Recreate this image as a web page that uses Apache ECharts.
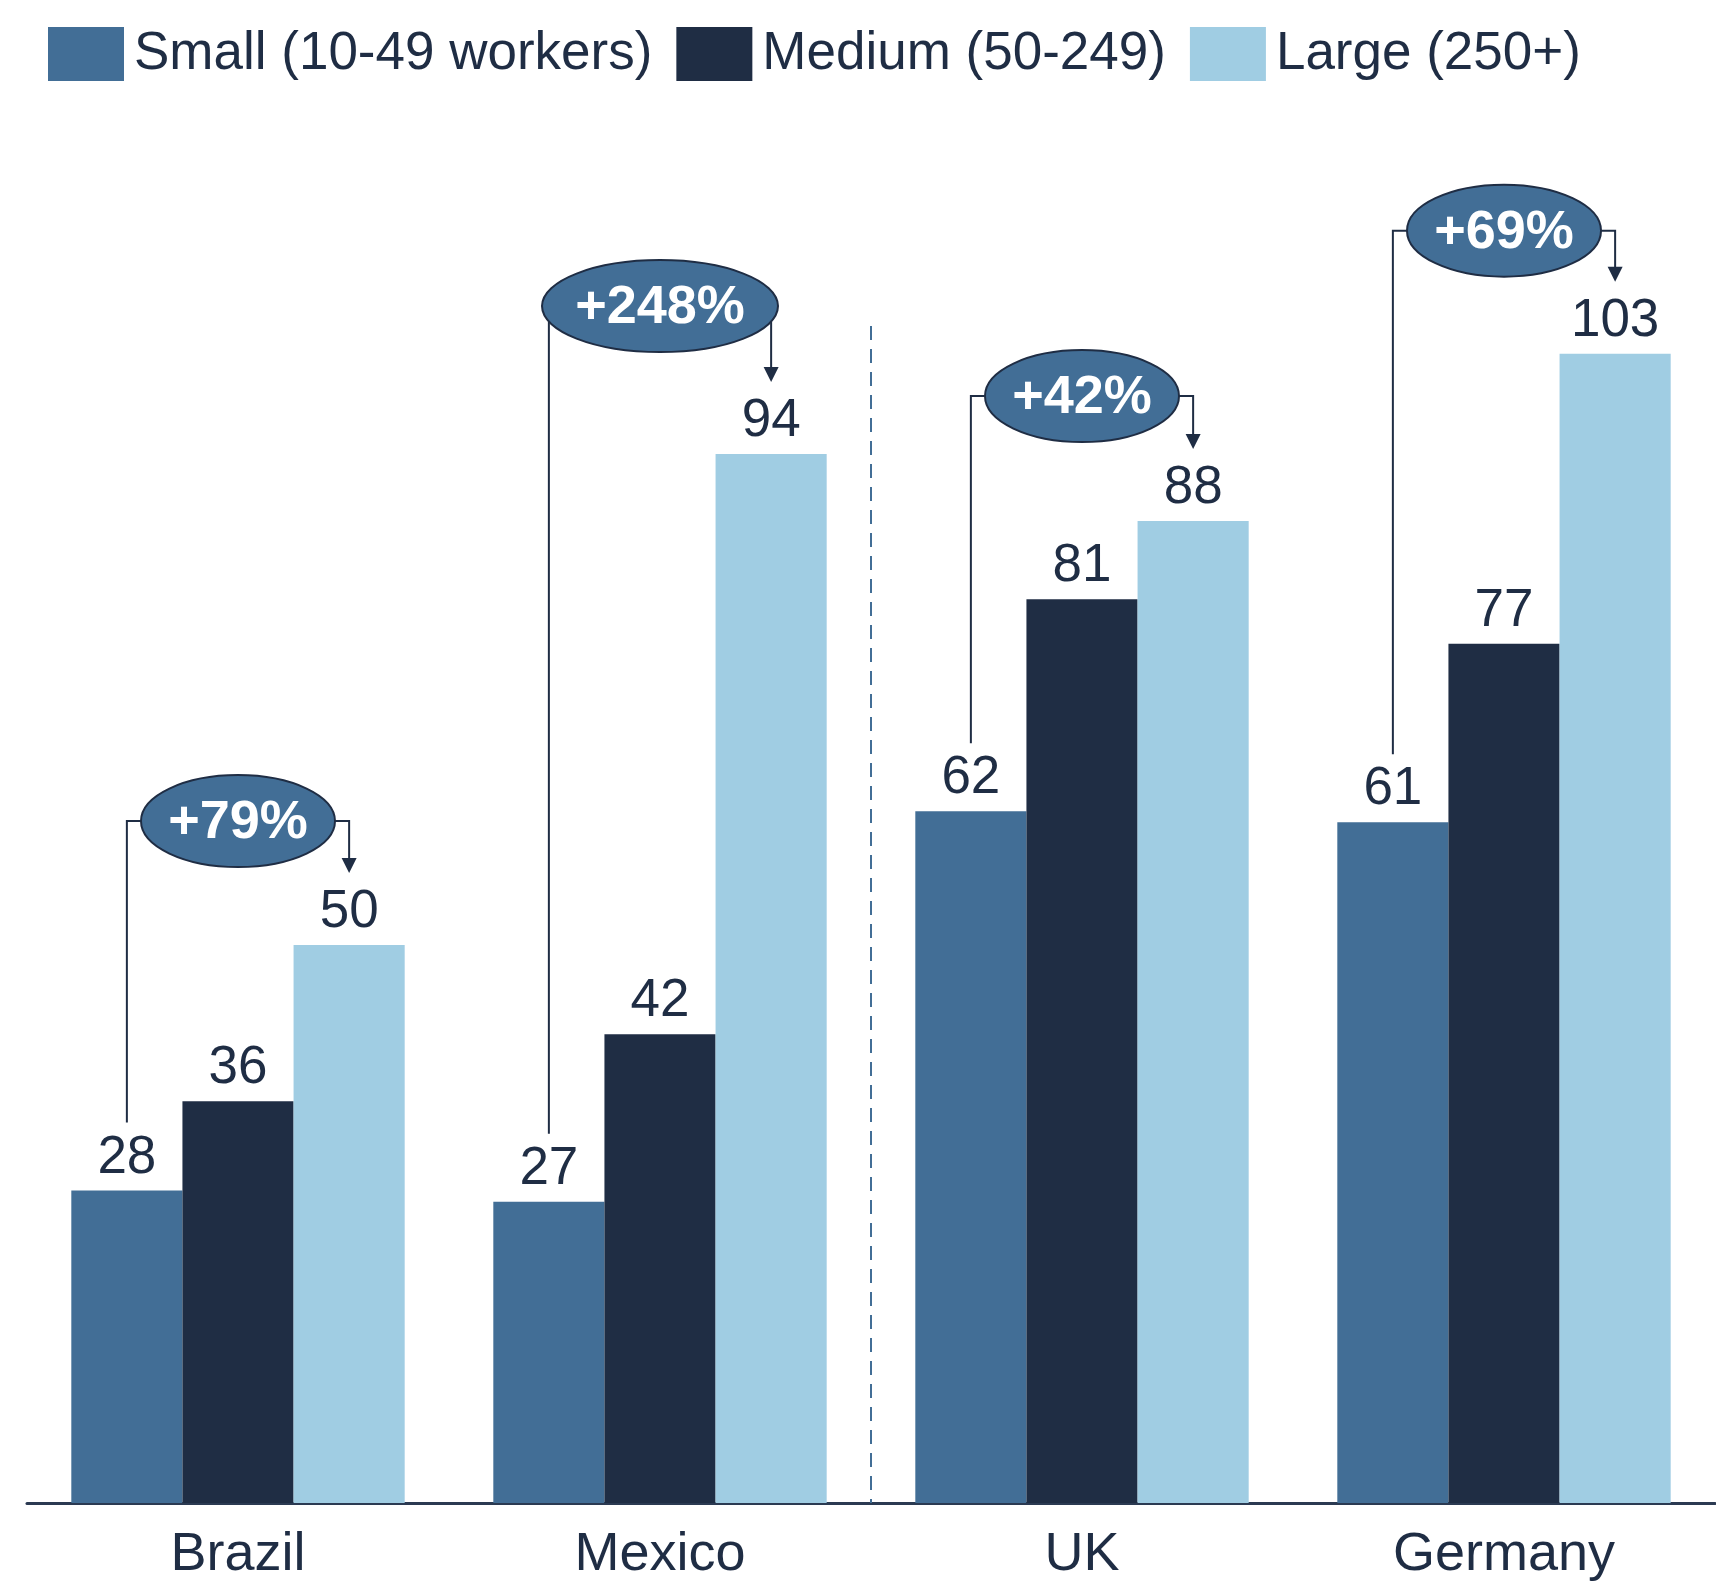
<!DOCTYPE html>
<html>
<head>
<meta charset="utf-8">
<script src="https://cdn.jsdelivr.net/npm/echarts@6/dist/echarts.min.js"></script>
<style>
  html, body { margin: 0; padding: 0; background: #fff; }
  #chart { width: 1716px; height: 1586px; }
</style>
</head>
<body>
<div id="chart"></div>
<script>
const countries = ['Brazil', 'Mexico', 'UK', 'Germany']
const smallFirms = [28, 27, 62, 61]
const mediumFirms = [36, 42, 81, 77]
const largeFirms = [50, 94, 88, 103]
const growthLabels = ['+79%', '+248%', '+42%', '+69%']

const FONT = '"Liberation Sans", Arial, sans-serif'
const INK = '#1f2d44'
const C_SMALL = '#426e96'
const C_MED = '#1f2d44'
const C_LARGE = '#a0cde3'
// how far each bubble sits above its large bar (px)
const bubbleLift = [124, 148, 125, 123]

let myChart = echarts.init(document.getElementById('chart'))

function barLabel() {
    return {
        show: true,
        position: 'top',
        distance: 6,
        color: INK,
        fontSize: 53,
        fontFamily: FONT
    }
}

let option = {
    backgroundColor: '#FFFFFF',
    animation: false,
    legend: {
        top: 27,
        left: 48,
        padding: 0,
        itemWidth: 76,
        itemHeight: 54,
        itemGap: 24,
        icon: 'rect',
        textStyle: {
            color: INK,
            fontSize: 53,
            fontFamily: FONT,
            padding: [10, 0, 0, 5]
        },
        data: ['Small (10-49 workers)', 'Medium (50-249)', 'Large (250+)']
    },
    grid: {
        left: 27,
        right: 1,
        top: 164,
        bottom: 83
    },
    xAxis: {
        type: 'category',
        data: countries,
        axisTick: { show: false },
        axisLine: {
            lineStyle: { color: '#2b3a52', width: 3 }
        },
        axisLabel: {
            color: INK,
            fontSize: 54,
            fontFamily: FONT,
            margin: 25
        }
    },
    yAxis: {
        type: 'value',
        min: 0,
        max: 120,
        show: false,
        splitLine: { show: false }
    },
    series: [
        {
            name: 'Small (10-49 workers)',
            type: 'bar',
            data: smallFirms,
            barGap: '0%',
            barCategoryGap: '21%',
            itemStyle: { color: C_SMALL },
            label: barLabel()
        },
        {
            name: 'Medium (50-249)',
            type: 'bar',
            data: mediumFirms,
            barGap: '0%',
            barCategoryGap: '21%',
            itemStyle: { color: C_MED },
            label: barLabel()
        },
        {
            name: 'Large (250+)',
            type: 'bar',
            data: largeFirms,
            barGap: '0%',
            barCategoryGap: '21%',
            itemStyle: { color: C_LARGE },
            label: barLabel()
        }
    ]
}
myChart.setOption(option)

// annotations: bracket + bubble from small bar to large bar
function drawNotes() {
    const model = myChart.getModel()
    const smallData = model.getSeriesByIndex(0).getData()
    const largeData = model.getSeriesByIndex(2).getData()
    let els = []
    countries.forEach((c, i) => {
        const s = smallData.getItemLayout(i)
        const l = largeData.getItemLayout(i)
        const sx = s.x + s.width / 2
        const sTop = Math.min(s.y, s.y + s.height)
        const lx = l.x + l.width / 2
        const lTop = Math.min(l.y, l.y + l.height)
        const cx = (s.x + l.x + l.width) / 2
        const cy = lTop - bubbleLift[i]
        const tipY = lTop - 72
        const rx = growthLabels[i].length > 4 ? 118 : 97
        els.push({
            type: 'polyline',
            z: 10,
            shape: { points: [[sx, sTop - 68], [sx, cy], [lx, cy], [lx, tipY - 14]] },
            style: { stroke: INK, lineWidth: 2, fill: null }
        })
        els.push({
            type: 'polygon',
            z: 10,
            shape: { points: [[lx - 7.5, tipY - 15], [lx + 7.5, tipY - 15], [lx, tipY]] },
            style: { fill: INK }
        })
        els.push({
            type: 'ellipse',
            z: 11,
            shape: { cx: cx, cy: cy, rx: rx, ry: 46 },
            style: { fill: C_SMALL, stroke: INK, lineWidth: 2 }
        })
        els.push({
            type: 'text',
            z: 12,
            x: cx,
            y: cy + 2,
            style: {
                text: growthLabels[i],
                fill: '#ffffff',
                font: 'bold 54px ' + FONT,
                align: 'center',
                verticalAlign: 'middle'
            }
        })
    })
    // dashed divider between emerging and advanced economies
    const midX = (myChart.convertToPixel({ xAxisIndex: 0 }, 'Mexico') + myChart.convertToPixel({ xAxisIndex: 0 }, 'UK')) / 2
    const baseY = myChart.convertToPixel({ yAxisIndex: 0 }, 0)
    els.push({
        type: 'line',
        z: 5,
        shape: { x1: midX, y1: 326, x2: midX, y2: baseY },
        style: { stroke: C_SMALL, lineWidth: 2, lineDash: [14, 9] }
    })
    myChart.setOption({ graphic: els })
}
drawNotes()

window.addEventListener('resize', function() {
    myChart.resize()
    drawNotes()
})
</script>
</body>
</html>
